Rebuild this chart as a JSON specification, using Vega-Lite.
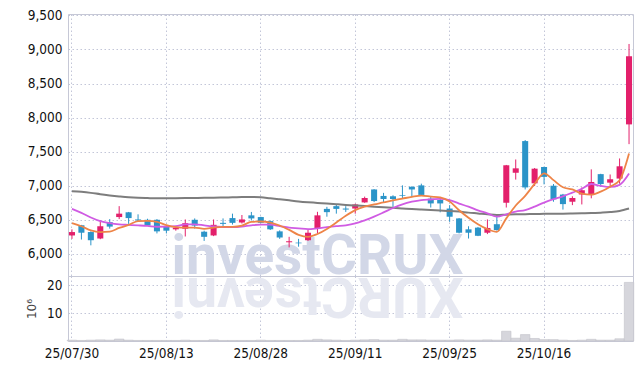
{
  "$schema": "https://vega.github.io/schema/vega-lite/v6.json",
  "autosize": {"type": "pad"},
  "padding": {"left": 25, "top": 7, "right": 9, "bottom": 5},
  "bounds": "flush",
  "spacing": 0,
  "config": {
    "view": {"stroke": "#c6c8d6", "strokeWidth": 1},
    "axis": {
      "labelFont": "DejaVu Sans Condensed, DejaVu Sans, sans-serif",
      "labelFontSize": 13.5,
      "labelColor": "#111111",
      "gridColor": "#c3c6d8",
      "gridDash": [1.5, 2.5],
      "gridWidth": 1,
      "domain": false,
      "ticks": false,
      "labelPadding": 6
    }
  },
  "datasets": {
    "d": [
      {"date":"25/07/30","o":6270,"h":6360,"l":6220,"c":6320,"ma5":6450,"ma10":6661,"ma60":6920,"vol":0.3},
      {"date":"25/07/31","o":6420,"h":6425,"l":6210,"c":6310,"ma5":6405,"ma10":6602,"ma60":6910,"vol":0.2},
      {"date":"25/08/01","o":6320,"h":6330,"l":6125,"c":6200,"ma5":6345,"ma10":6534,"ma60":6895,"vol":0.3},
      {"date":"25/08/04","o":6225,"h":6495,"l":6215,"c":6405,"ma5":6320,"ma10":6480,"ma60":6875,"vol":0.4},
      {"date":"25/08/05","o":6465,"h":6510,"l":6370,"c":6400,"ma5":6326,"ma10":6450,"ma60":6858,"vol":0.3},
      {"date":"25/08/06","o":6540,"h":6700,"l":6510,"c":6590,"ma5":6380,"ma10":6432,"ma60":6843,"vol":0.7},
      {"date":"25/08/07","o":6610,"h":6615,"l":6440,"c":6525,"ma5":6424,"ma10":6425,"ma60":6830,"vol":0.3},
      {"date":"25/08/08","o":6505,"h":6580,"l":6480,"c":6490,"ma5":6481,"ma10":6418,"ma60":6822,"vol":0.2},
      {"date":"25/08/11","o":6500,"h":6515,"l":6410,"c":6415,"ma5":6484,"ma10":6410,"ma60":6818,"vol":0.2},
      {"date":"25/08/12","o":6500,"h":6510,"l":6300,"c":6330,"ma5":6470,"ma10":6398,"ma60":6815,"vol":0.2},
      {"date":"25/08/13","o":6395,"h":6400,"l":6300,"c":6340,"ma5":6420,"ma10":6400,"ma60":6815,"vol":0.2},
      {"date":"25/08/14","o":6360,"h":6400,"l":6340,"c":6385,"ma5":6392,"ma10":6407,"ma60":6816,"vol":0.2},
      {"date":"25/08/18","o":6368,"h":6505,"l":6255,"c":6450,"ma5":6384,"ma10":6432,"ma60":6818,"vol":0.3},
      {"date":"25/08/19","o":6500,"h":6520,"l":6370,"c":6415,"ma5":6384,"ma10":6434,"ma60":6820,"vol":0.2},
      {"date":"25/08/20","o":6325,"h":6340,"l":6190,"c":6250,"ma5":6368,"ma10":6419,"ma60":6822,"vol":0.2},
      {"date":"25/08/21","o":6270,"h":6505,"l":6260,"c":6426,"ma5":6385,"ma10":6402,"ma60":6825,"vol":0.4},
      {"date":"25/08/22","o":6455,"h":6520,"l":6400,"c":6440,"ma5":6396,"ma10":6394,"ma60":6827,"vol":0.2},
      {"date":"25/08/25","o":6525,"h":6590,"l":6430,"c":6455,"ma5":6397,"ma10":6391,"ma60":6830,"vol":0.2},
      {"date":"25/08/26","o":6460,"h":6570,"l":6445,"c":6505,"ma5":6415,"ma10":6400,"ma60":6833,"vol":0.2},
      {"date":"25/08/27","o":6565,"h":6615,"l":6490,"c":6520,"ma5":6469,"ma10":6419,"ma60":6835,"vol":0.2},
      {"date":"25/08/28","o":6540,"h":6545,"l":6450,"c":6455,"ma5":6475,"ma10":6430,"ma60":6830,"vol":0.3},
      {"date":"25/08/29","o":6480,"h":6490,"l":6350,"c":6360,"ma5":6459,"ma10":6428,"ma60":6815,"vol":0.2},
      {"date":"25/09/01","o":6330,"h":6345,"l":6220,"c":6240,"ma5":6416,"ma10":6407,"ma60":6800,"vol":0.2},
      {"date":"25/09/02","o":6170,"h":6250,"l":6095,"c":6185,"ma5":6352,"ma10":6384,"ma60":6785,"vol":0.2},
      {"date":"25/09/03","o":6165,"h":6220,"l":6105,"c":6155,"ma5":6279,"ma10":6374,"ma60":6770,"vol":0.2},
      {"date":"25/09/04","o":6200,"h":6350,"l":6190,"c":6310,"ma5":6250,"ma10":6363,"ma60":6758,"vol":0.3},
      {"date":"25/09/05","o":6370,"h":6617,"l":6300,"c":6565,"ma5":6291,"ma10":6375,"ma60":6748,"vol":0.6},
      {"date":"25/09/08","o":6660,"h":6690,"l":6545,"c":6612,"ma5":6365,"ma10":6391,"ma60":6738,"vol":0.4},
      {"date":"25/09/09","o":6700,"h":6730,"l":6590,"c":6660,"ma5":6460,"ma10":6406,"ma60":6728,"vol":0.3},
      {"date":"25/09/10","o":6665,"h":6700,"l":6615,"c":6650,"ma5":6559,"ma10":6419,"ma60":6718,"vol":0.2},
      {"date":"25/09/11","o":6665,"h":6735,"l":6590,"c":6725,"ma5":6642,"ma10":6446,"ma60":6710,"vol":0.3},
      {"date":"25/09/12","o":6755,"h":6840,"l":6750,"c":6820,"ma5":6693,"ma10":6492,"ma60":6702,"vol":0.4},
      {"date":"25/09/15","o":6945,"h":6950,"l":6760,"c":6775,"ma5":6726,"ma10":6546,"ma60":6693,"vol":0.5},
      {"date":"25/09/16","o":6850,"h":6895,"l":6755,"c":6805,"ma5":6755,"ma10":6608,"ma60":6684,"vol":0.3},
      {"date":"25/09/17","o":6845,"h":6860,"l":6690,"c":6805,"ma5":6786,"ma10":6673,"ma60":6675,"vol":0.3},
      {"date":"25/09/18","o":6860,"h":7005,"l":6815,"c":6850,"ma5":6811,"ma10":6727,"ma60":6666,"vol":0.6},
      {"date":"25/09/19","o":6985,"h":6990,"l":6840,"c":6945,"ma5":6836,"ma10":6765,"ma60":6657,"vol":0.4},
      {"date":"25/09/22","o":7005,"h":7030,"l":6860,"c":6865,"ma5":6854,"ma10":6790,"ma60":6650,"vol":0.4},
      {"date":"25/09/23","o":6810,"h":6850,"l":6680,"c":6740,"ma5":6841,"ma10":6798,"ma60":6643,"vol":0.3},
      {"date":"25/09/24","o":6790,"h":6810,"l":6610,"c":6740,"ma5":6828,"ma10":6807,"ma60":6636,"vol":0.3},
      {"date":"25/09/25","o":6665,"h":6715,"l":6470,"c":6545,"ma5":6767,"ma10":6789,"ma60":6630,"vol":0.3},
      {"date":"25/09/26","o":6520,"h":6525,"l":6300,"c":6310,"ma5":6640,"ma10":6738,"ma60":6620,"vol":0.4},
      {"date":"25/09/29","o":6360,"h":6405,"l":6225,"c":6310,"ma5":6529,"ma10":6692,"ma60":6605,"vol":0.3},
      {"date":"25/09/30","o":6385,"h":6395,"l":6260,"c":6265,"ma5":6434,"ma10":6638,"ma60":6593,"vol":0.3},
      {"date":"25/10/01","o":6310,"h":6505,"l":6290,"c":6380,"ma5":6362,"ma10":6595,"ma60":6580,"vol":0.4},
      {"date":"25/10/02","o":6435,"h":6545,"l":6340,"c":6350,"ma5":6323,"ma10":6545,"ma60":6570,"vol":0.3},
      {"date":"25/10/10","o":6750,"h":7305,"l":6680,"c":7300,"ma5":6521,"ma10":6581,"ma60":6575,"vol":3.5},
      {"date":"25/10/13","o":7190,"h":7385,"l":7090,"c":7255,"ma5":6710,"ma10":6620,"ma60":6580,"vol":1.0},
      {"date":"25/10/14","o":7655,"h":7670,"l":6945,"c":6975,"ma5":6852,"ma10":6643,"ma60":6583,"vol":2.3},
      {"date":"25/10/15","o":7035,"h":7260,"l":6995,"c":7250,"ma5":7026,"ma10":6694,"ma60":6585,"vol":0.9},
      {"date":"25/10/16","o":7275,"h":7280,"l":7020,"c":7130,"ma5":7182,"ma10":6753,"ma60":6587,"vol":0.5},
      {"date":"25/10/17","o":7000,"h":7025,"l":6765,"c":6800,"ma5":7082,"ma10":6802,"ma60":6590,"vol":0.5},
      {"date":"25/10/20","o":6870,"h":6880,"l":6650,"c":6730,"ma5":6977,"ma10":6844,"ma60":6590,"vol":0.3},
      {"date":"25/10/21","o":6765,"h":6845,"l":6715,"c":6820,"ma5":6946,"ma10":6899,"ma60":6592,"vol":0.2},
      {"date":"25/10/22","o":6870,"h":6975,"l":6725,"c":6935,"ma5":6883,"ma10":6955,"ma60":6595,"vol":0.3},
      {"date":"25/10/23","o":6870,"h":7240,"l":6815,"c":7055,"ma5":6868,"ma10":7025,"ma60":6598,"vol":0.6},
      {"date":"25/10/24","o":7170,"h":7175,"l":6985,"c":7025,"ma5":6913,"ma10":6998,"ma60":6605,"vol":0.3},
      {"date":"25/10/27","o":7045,"h":7165,"l":6985,"c":7095,"ma5":6986,"ma10":6982,"ma60":6614,"vol":0.3},
      {"date":"25/10/28","o":7105,"h":7400,"l":7030,"c":7285,"ma5":7079,"ma10":7013,"ma60":6630,"vol":0.8},
      {"date":"25/10/29","o":7900,"h":9080,"l":7610,"c":8900,"ma5":7472,"ma10":7178,"ma60":6665,"vol":21.0}
    ]
  },
  "vconcat": [
    {
      "width": 565,
      "height": 262,
      "encoding": {
        "x": {
          "field": "date", "type": "ordinal", "sort": null,
          "scale": {"paddingInner": 0.36, "paddingOuter": 0.1, "domain": ["25/07/30","25/07/31","25/08/01","25/08/04","25/08/05","25/08/06","25/08/07","25/08/08","25/08/11","25/08/12","25/08/13","25/08/14","25/08/18","25/08/19","25/08/20","25/08/21","25/08/22","25/08/25","25/08/26","25/08/27","25/08/28","25/08/29","25/09/01","25/09/02","25/09/03","25/09/04","25/09/05","25/09/08","25/09/09","25/09/10","25/09/11","25/09/12","25/09/15","25/09/16","25/09/17","25/09/18","25/09/19","25/09/22","25/09/23","25/09/24","25/09/25","25/09/26","25/09/29","25/09/30","25/10/01","25/10/02","25/10/10","25/10/13","25/10/14","25/10/15","25/10/16","25/10/17","25/10/20","25/10/21","25/10/22","25/10/23","25/10/24","25/10/27","25/10/28","25/10/29"]},
          "axis": {"values": ["25/07/30","25/08/13","25/08/28","25/09/11","25/09/25","25/10/16"], "labels": false, "title": null, "grid": true, "bandPosition": 0.5}
        }
      },
      "resolve": {"scale": {"y": "independent"}, "axis": {"y": "independent"}},
      "layer": [
        {
          "data": {"values": [{}]},
          "mark": {"type": "text", "text": "investCRUX", "font": "Roboto", "fontSize": 55, "fontWeight": "bold", "color": "#d2d7e7", "align": "center", "baseline": "alphabetic"},
          "encoding": {
            "x": {"datum": "25/09/05"},
            "y": {"datum": 5700, "type": "quantitative", "scale": {"domain": [5675, 9520], "nice": false, "zero": false}, "axis": null}
          }
        },
        {
          "data": {"name": "d"},
          "encoding": {
            "y": {"field": "l", "type": "quantitative", "scale": {"domain": [5675, 9520], "nice": false, "zero": false},
              "axis": {"values": [6000,6500,7000,7500,8000,8500,9000,9500], "format": ",.0f", "title": null, "grid": true}}
          },
          "layer": [
            {
              "mark": {"type": "rule", "strokeWidth": 1},
              "encoding": {
                "y2": {"field": "h"},
                "color": {"condition": {"test": "datum.c >= datum.o", "value": "#e3206b"}, "value": "#2b94c8"}
              }
            },
            {
              "mark": {"type": "bar"},
              "encoding": {
                "y": {"field": "o", "type": "quantitative", "title": null},
                "y2": {"field": "c"},
                "color": {"condition": {"test": "datum.c >= datum.o", "value": "#e3206b"}, "value": "#2b94c8"}
              }
            },
            {
              "mark": {"type": "line", "color": "#7d7d7d", "strokeWidth": 2, "interpolate": "monotone"},
              "encoding": {"y": {"field": "ma60", "type": "quantitative", "title": null}}
            },
            {
              "mark": {"type": "line", "color": "#d05be3", "strokeWidth": 1.8, "interpolate": "monotone"},
              "encoding": {"y": {"field": "ma10", "type": "quantitative", "title": null}}
            },
            {
              "mark": {"type": "line", "color": "#ee8447", "strokeWidth": 1.8, "interpolate": "monotone"},
              "encoding": {"y": {"field": "ma5", "type": "quantitative", "title": null}}
            }
          ]
        }
      ]
    },
    {
      "width": 565,
      "height": 65,
      "encoding": {
        "x": {
          "field": "date", "type": "ordinal", "sort": null,
          "scale": {"paddingInner": 0.36, "paddingOuter": 0.1, "domain": ["25/07/30","25/07/31","25/08/01","25/08/04","25/08/05","25/08/06","25/08/07","25/08/08","25/08/11","25/08/12","25/08/13","25/08/14","25/08/18","25/08/19","25/08/20","25/08/21","25/08/22","25/08/25","25/08/26","25/08/27","25/08/28","25/08/29","25/09/01","25/09/02","25/09/03","25/09/04","25/09/05","25/09/08","25/09/09","25/09/10","25/09/11","25/09/12","25/09/15","25/09/16","25/09/17","25/09/18","25/09/19","25/09/22","25/09/23","25/09/24","25/09/25","25/09/26","25/09/29","25/09/30","25/10/01","25/10/02","25/10/10","25/10/13","25/10/14","25/10/15","25/10/16","25/10/17","25/10/20","25/10/21","25/10/22","25/10/23","25/10/24","25/10/27","25/10/28","25/10/29"]},
          "axis": {"values": ["25/07/30","25/08/13","25/08/28","25/09/11","25/09/25","25/10/16"], "labelAngle": 0, "labelPadding": 5, "title": null, "grid": true, "bandPosition": 0.5}
        }
      },
      "layer": [
        {
          "data": {"values": [{}]},
          "mark": {"type": "text", "text": "XURCtsevni", "angle": 180, "font": "Roboto", "fontSize": 55, "fontWeight": "bold", "color": "#e6e8f1", "align": "center", "baseline": "alphabetic"},
          "encoding": {
            "x": {"datum": "25/09/05"},
            "y": {"datum": 22.6, "type": "quantitative", "scale": {"domain": [0, 23.3], "nice": false}}
          }
        },
        {
          "data": {"name": "d"},
          "mark": {"type": "bar", "width": {"band": 1.56}, "color": "#d6d6dc", "stroke": "#c2c2ca", "strokeWidth": 0.6},
          "encoding": {
            "y": {"field": "vol", "type": "quantitative", "scale": {"domain": [0, 23.3], "nice": false},
              "axis": {"values": [10, 20], "title": "10⁶", "titleFont": "DejaVu Sans", "titleFontSize": 12, "titleFontWeight": "normal", "titleColor": "#444444", "titlePadding": 8, "grid": true}}
          }
        }
      ]
    }
  ]
}
